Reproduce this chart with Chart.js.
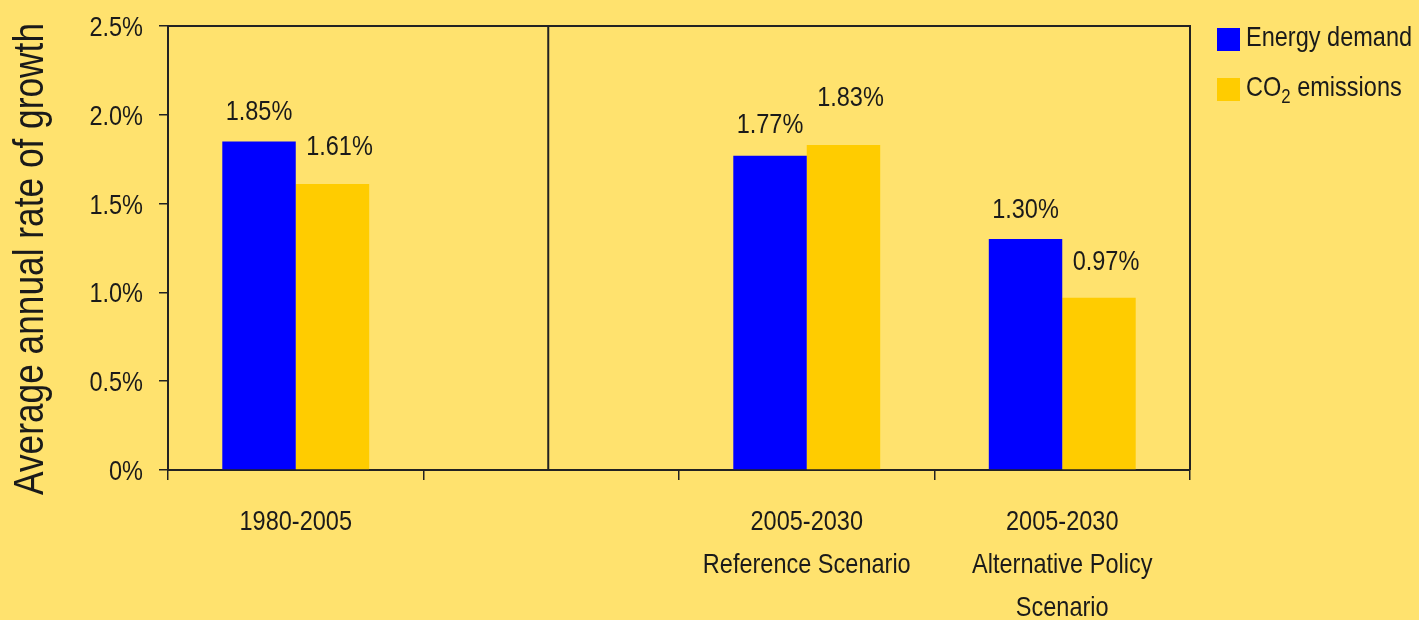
<!DOCTYPE html>
<html>
<head>
<meta charset="utf-8">
<script src="https://cdn.jsdelivr.net/npm/chart.js@4.4.0/dist/chart.umd.min.js"></script>
<style>
  html, body { margin: 0; padding: 0; background: #FFE26E; }
  #growthChart { display: block; }
</style>
</head>
<body>
<canvas id="growthChart" width="1419" height="620"></canvas>
<script>
const periods = [['1980-2005'], [''], ['2005-2030', 'Reference Scenario'], ['2005-2030', 'Alternative Policy', 'Scenario']];
const energyDemand = [1.85, null, 1.77, 1.30];
const co2Emissions = [1.61, null, 1.83, 0.97];
const yTickLabels = ['0%', '0.5%', '1.0%', '1.5%', '2.0%', '2.5%'];

const FONT = "'Liberation Sans', Arial, sans-serif";
const NARROW = 0.84;   // no condensed face installed, so text is squeezed by hand
const INK = '#1a1a1a';
const LINE = '#222';

// how far each value label sits above its bar, and sideways nudge per series
const labelLift = [[21, 0, 23, 21], [29, 0, 39, 28]];
const labelShift = [0, 7];

function narrowText(ctx, text, x, y, size, align) {
    ctx.save();
    ctx.translate(x, y);
    ctx.scale(NARROW, 1);
    ctx.font = size + 'px ' + FONT;
    ctx.textAlign = align || 'left';
    ctx.textBaseline = 'alphabetic';
    ctx.fillText(text, 0, 0);
    const w = ctx.measureText(text).width * NARROW;
    ctx.restore();
    return w;
}

const frame = {
    id: 'frame',
    afterDraw(chart) {
        const { ctx, chartArea: a } = chart;
        const split = chart.scales.x.getPixelForValue(1) - 3;
        ctx.save();
        ctx.strokeStyle = LINE;
        ctx.lineWidth = 2;
        ctx.beginPath();
        ctx.moveTo(a.left, a.top);
        ctx.lineTo(a.right, a.top);
        ctx.lineTo(a.right, a.bottom);
        ctx.moveTo(split, a.top);
        ctx.lineTo(split, a.bottom);
        ctx.stroke();
        ctx.restore();
    }
};

// tick labels for both axes
const axisText = {
    id: 'axisText',
    afterDraw(chart) {
        const ctx = chart.ctx;
        const { x, y } = chart.scales;
        ctx.save();
        ctx.fillStyle = INK;
        y.ticks.forEach((t, i) => {
            narrowText(ctx, yTickLabels[i], 143, y.getPixelForValue(t.value) + 10, 28, 'right');
        });
        periods.forEach((lines, i) => {
            const cx = x.getPixelForValue(i);
            lines.forEach((line, j) => {
                narrowText(ctx, line, cx, 530 + j * 43, 28, 'center');
            });
        });
        ctx.restore();
    }
};

const valueLabels = {
    id: 'valueLabels',
    afterDatasetsDraw(chart) {
        const ctx = chart.ctx;
        ctx.save();
        ctx.fillStyle = INK;
        chart.data.datasets.forEach((ds, di) => {
            chart.getDatasetMeta(di).data.forEach((bar, i) => {
                const v = ds.data[i];
                if (v === null) return;
                narrowText(ctx, v.toFixed(2) + '%', bar.x + labelShift[di], bar.y - labelLift[di][i], 28, 'center');
            });
        });
        ctx.restore();
    }
};

// legend at the top right; the subscript in CO₂ is drawn smaller and lower
const sideLegend = {
    id: 'sideLegend',
    afterDraw(chart) {
        const ctx = chart.ctx;
        ctx.save();
        chart.data.datasets.forEach((ds, i) => {
            const top = 28 + i * 50;
            ctx.fillStyle = ds.backgroundColor;
            ctx.fillRect(1217, top, 23, 23);
            ctx.fillStyle = INK;
            let x = 1246;
            const base = top + 18;
            ds.label.split(/(₂)/).forEach(part => {
                if (part === '₂') {
                    x += narrowText(ctx, '2', x, base + 7, 20);
                } else if (part) {
                    x += narrowText(ctx, part, x, base, 28);
                }
            });
        });
        ctx.restore();
    }
};

const yTitle = {
    id: 'yTitle',
    afterDraw(chart) {
        const ctx = chart.ctx;
        ctx.save();
        ctx.fillStyle = INK;
        ctx.translate(43, 259);
        ctx.rotate(-Math.PI / 2);
        narrowText(ctx, 'Average annual rate of growth', 0, 0, 42, 'center');
        ctx.restore();
    }
};

const ctx = document.getElementById('growthChart').getContext('2d');

new Chart(ctx, {
    type: 'bar',
    data: {
        labels: periods,
        datasets: [{
            label: 'Energy demand',
            data: energyDemand,
            backgroundColor: '#0000FF',
            borderWidth: 0,
            categoryPercentage: 0.575,
            barPercentage: 1
        }, {
            label: 'CO₂ emissions',
            data: co2Emissions,
            backgroundColor: '#FFCC00',
            borderWidth: 0,
            categoryPercentage: 0.575,
            barPercentage: 1
        }]
    },
    options: {
        responsive: false,
        animation: false,
        layout: {
            padding: { top: 26, right: 229, bottom: 0, left: 0 }
        },
        scales: {
            x: {
                grid: {
                    offset: true,
                    drawOnChartArea: false,
                    tickLength: 10,
                    color: LINE,
                    lineWidth: 1.5
                },
                border: { color: LINE, width: 2 },
                ticks: { display: false, autoSkip: false },
                afterFit(scale) { scale.height = 150; }
            },
            y: {
                min: 0,
                max: 2.5,
                grid: {
                    drawOnChartArea: false,
                    tickLength: 9,
                    color: LINE,
                    lineWidth: 1.5
                },
                border: { color: LINE, width: 2 },
                ticks: { display: false, stepSize: 0.5 },
                afterFit(scale) { scale.width = 168; }
            }
        },
        plugins: {
            legend: { display: false },
            tooltip: { enabled: false }
        }
    },
    plugins: [frame, axisText, valueLabels, sideLegend, yTitle]
});
</script>
</body>
</html>
